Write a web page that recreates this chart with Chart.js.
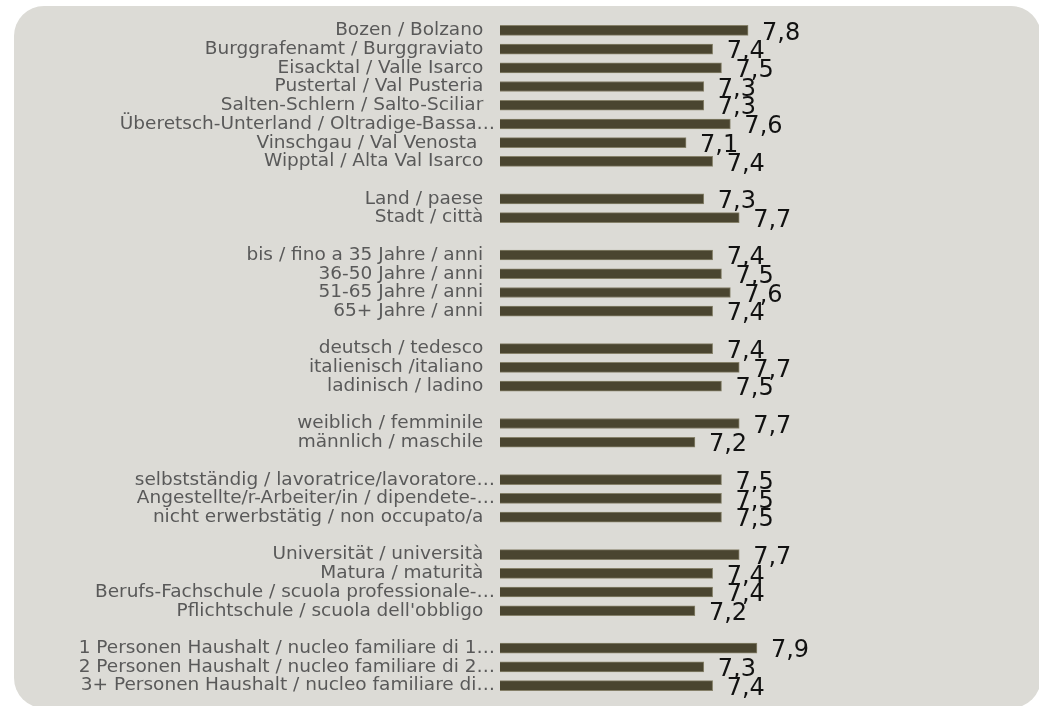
<!DOCTYPE html>
<html>
<head>
<meta charset="utf-8">
<script src="https://cdn.jsdelivr.net/npm/chart.js@4/dist/chart.umd.min.js"></script>
<style>
  html, body { margin: 0; padding: 0; background: #fff; overflow: hidden; }
  #wrap { position: relative; width: 1039px; height: 706px; }
  #panel {
    position: absolute; left: 14px; top: 6px; width: 1027px; height: 702px;
    background: #dcdbd6; border-radius: 30px;
  }
  #chart { position: absolute; left: 0; top: 0; }
</style>
</head>
<body>
<div id="wrap">
  <div id="panel"></div>
  <canvas id="chart" width="1039" height="706"></canvas>
</div>
<script>
// groups of the survey, one small array per group
const regions = ['Bozen / Bolzano', 'Burggrafenamt / Burggraviato', 'Eisacktal / Valle Isarco',
  'Pustertal / Val Pusteria', 'Salten-Schlern / Salto-Sciliar', 'Überetsch-Unterland / Oltradige-Bassa…',
  'Vinschgau / Val Venosta ', 'Wipptal / Alta Val Isarco'];
const regionValues = [7.8, 7.4, 7.5, 7.3, 7.3, 7.6, 7.1, 7.4];

const settlement = ['Land / paese', 'Stadt / città'];
const settlementValues = [7.3, 7.7];

const ageGroups = ['bis / fino a 35 Jahre / anni', '36-50 Jahre / anni', '51-65 Jahre / anni', '65+ Jahre / anni'];
const ageValues = [7.4, 7.5, 7.6, 7.4];

const languages = ['deutsch / tedesco', 'italienisch /italiano', 'ladinisch / ladino'];
const languageValues = [7.4, 7.7, 7.5];

const gender = ['weiblich / femminile', 'männlich / maschile'];
const genderValues = [7.7, 7.2];

const occupation = ['selbstständig / lavoratrice/lavoratore…', 'Angestellte/r-Arbeiter/in / dipendete-…',
  'nicht erwerbstätig / non occupato/a'];
const occupationValues = [7.5, 7.5, 7.5];

const education = ['Universität / università', 'Matura / maturità',
  'Berufs-Fachschule / scuola professionale-…', "Pflichtschule / scuola dell'obbligo"];
const educationValues = [7.7, 7.4, 7.4, 7.2];

const household = ['1 Personen Haushalt / nucleo familiare di 1…', '2 Personen Haushalt / nucleo familiare di 2…',
  '3+ Personen Haushalt / nucleo familiare di…'];
const householdValues = [7.9, 7.3, 7.4];

const groups = [
  [regions, regionValues], [settlement, settlementValues], [ageGroups, ageValues],
  [languages, languageValues], [gender, genderValues], [occupation, occupationValues],
  [education, educationValues], [household, householdValues]
];

// flatten, with an empty row between groups
const labels = [];
const values = [];
groups.forEach(([names, vals], g) => {
  if (g > 0) { labels.push(''); values.push(null); }
  names.forEach((n, i) => { labels.push(n); values.push(vals[i]); });
});

const valueLabels = {
  id: 'valueLabels',
  afterDatasetsDraw(chart) {
    const ctx = chart.ctx;
    const meta = chart.getDatasetMeta(0);
    ctx.save();
    ctx.font = '24px "DejaVu Sans"';
    ctx.fillStyle = '#111';
    ctx.textAlign = 'left';
    ctx.textBaseline = 'middle';
    meta.data.forEach((bar, i) => {
      const v = values[i];
      if (v == null) return;
      ctx.fillText(v.toFixed(1).replace('.', ','), bar.x + 14, bar.y + 3);
    });
    ctx.restore();
  }
};

new Chart(document.getElementById('chart'), {
  type: 'bar',
  data: {
    labels,
    datasets: [{
      data: values,
      backgroundColor: '#4a4530',
      borderColor: '#858069',
      borderWidth: 1,
      borderSkipped: false,
      barThickness: 10
    }]
  },
  options: {
    indexAxis: 'y',
    responsive: false,
    animation: false,
    layout: { padding: { left: 0, right: 96, top: 21, bottom: 11 } },
    plugins: { legend: { display: false }, tooltip: { enabled: false } },
    scales: {
      x: { display: false, min: 5, max: 10 },
      y: {
        grid: { display: false, drawTicks: false },
        border: { display: false },
        afterFit: (scale) => {
          scale.width = 500;
          // rows already sit inside the area, no extra room for end labels
          scale.paddingTop = 0;
          scale.paddingBottom = 0;
        },
        ticks: {
          autoSkip: false,
          padding: 5,
          color: '#595959',
          font: { family: '"DejaVu Sans"', size: 18.5 },
          callback: (val, i) => {
            const l = labels[i];
            if (!l) return '';
            return l.endsWith('…') ? l : l + '  ';
          }
        }
      }
    }
  },
  plugins: [valueLabels]
});
</script>
</body>
</html>
